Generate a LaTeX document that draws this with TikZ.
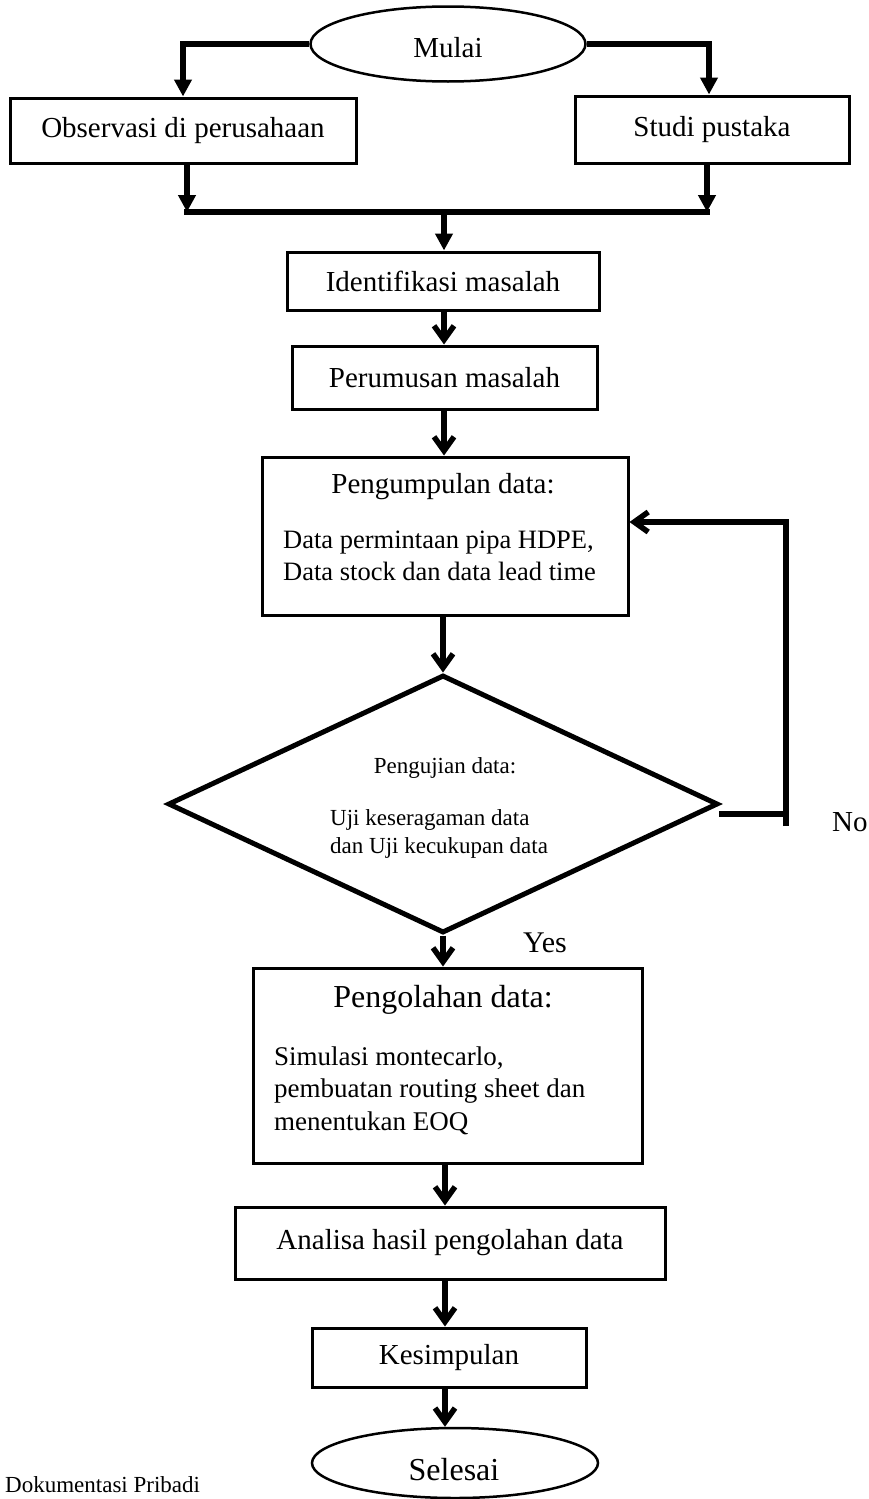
\documentclass[tikz,border=0pt]{standalone}
\usepackage{fontspec}
\setmainfont{Liberation Serif}
\usetikzlibrary{arrows.meta,shapes.geometric}
\tikzset{
  boxnode/.style={draw, line width=3pt, rectangle, inner sep=0pt, font=\fontsize{29}{34}\selectfont},
  ellnode/.style={draw, line width=2.5pt, ellipse, inner sep=0pt, font=\fontsize{29}{34}\selectfont},
  decnode/.style={draw, line width=5pt, diamond, inner sep=0pt, line join=miter},
  conn/.style={line width=5.5pt},
  tri/.style={conn, -{Triangle[length=17pt,width=17pt]}},
  barb/.style={conn, -{Straight Barb[length=14pt,width=20pt]}},
  plain/.style={inner sep=0pt},
}
\begin{document}
\begin{tikzpicture}[x=1pt,y=-1pt]
\useasboundingbox (0,0) rectangle (869,1499);

% nodes
\node[ellnode, minimum width=275pt, minimum height=75pt] (mulai) at (448,44) {};
\node[plain, font=\fontsize{29}{34}\selectfont, anchor=base] (mulaitxt) at (448,57) {Mulai};
\node[boxnode, minimum width=346pt, minimum height=65pt] (obs) at (183,130.5) {Observasi di perusahaan};
\node[boxnode, minimum width=274pt, minimum height=67pt] (studi) at (712,129.5) {Studi pustaka};
\node[boxnode, minimum width=312pt, minimum height=58pt] (ident) at (443,281) {Identifikasi masalah};
\node[boxnode, minimum width=305pt, minimum height=63pt] (perum) at (444.5,377.5) {Perumusan masalah};
\node[boxnode, minimum width=366pt, minimum height=158pt] (kumpul) at (445,536) {};
\node[plain, font=\fontsize{29}{34}\selectfont, anchor=base] (kumpul1) at (443,493) {Pengumpulan data:};
\node[plain, font=\fontsize{26.5}{32}\selectfont, anchor=base west] (kumpul2) at (283,548) {Data permintaan pipa HDPE,};
\node[plain, font=\fontsize{26.5}{32}\selectfont, anchor=base west] (kumpul3) at (283,580) {Data stock dan data lead time};

\node[decnode, minimum width=550pt, minimum height=258pt] (uji) at (443,804) {};
\node[plain, font=\fontsize{23}{28}\selectfont, anchor=base] (uji1) at (445,773) {Pengujian data:};
\node[plain, font=\fontsize{23}{28}\selectfont, anchor=base west] (uji2) at (330,825) {Uji keseragaman data};
\node[plain, font=\fontsize{23}{28}\selectfont, anchor=base west] (uji3) at (330,853) {dan Uji kecukupan data};

\node[plain, font=\fontsize{30}{36}\selectfont, anchor=base] (yes) at (545,952) {Yes};
\node[plain, font=\fontsize{29}{34}\selectfont, anchor=base west] (no) at (832,831) {No};

\node[boxnode, minimum width=389pt, minimum height=195pt] (olah) at (447.5,1065.5) {};
\node[plain, font=\fontsize{32}{38}\selectfont, anchor=base] (olah1) at (443,1007) {Pengolahan data:};
\node[plain, font=\fontsize{27}{32}\selectfont, anchor=base west] (olah2) at (274,1065) {Simulasi montecarlo,};
\node[plain, font=\fontsize{27}{32}\selectfont, anchor=base west] (olah3) at (274,1097) {pembuatan routing sheet dan};
\node[plain, font=\fontsize{27}{32}\selectfont, anchor=base west] (olah4) at (274,1130) {menentukan EOQ};

\node[boxnode, minimum width=430pt, minimum height=72pt] (analisa) at (450,1243) {Analisa hasil pengolahan data};
\node[boxnode, minimum width=274pt, minimum height=59pt] (simpul) at (449,1357.5) {Kesimpulan};
\node[ellnode, minimum width=286pt, minimum height=70pt] (selesai) at (455,1463) {};
\node[plain, font=\fontsize{32}{38}\selectfont, anchor=base] (selesaitxt) at (454,1480) {Selesai};

\node[plain, font=\fontsize{23}{28}\selectfont, anchor=base west] (dok) at (5,1492) {Dokumentasi Pribadi};

% junction coordinates
\coordinate (jl) at (187,212);
\coordinate (jr) at (707,212);
\coordinate (jc) at (444,212);
\coordinate (nostart) at (719,814);
\coordinate (nobot) at (786,826);
\coordinate (notop) at (786,522);

% connectors
\draw[tri] (mulai.west) -| (obs.north -| 183,0);
\draw[tri] (mulai.east) -| (studi.north -| 709,0);
\draw[tri] (obs.south -| jl) -- (jl);
\draw[tri] (studi.south -| jr) -- (jr);
\draw[conn] ([xshift=-2.75pt]jl) -- ([xshift=2.75pt]jr);
\draw[tri] (jc) -- (ident.north -| jc);
\draw[barb] (ident.south -| jc) -- (perum.north -| jc);
\draw[barb] (perum.south -| jc) -- (kumpul.north -| jc);
\draw[barb] (kumpul.south -| 443,0) -- (uji.north);
\draw[barb] (uji.south) -- (olah.north -| uji.south);
\draw[barb] (olah.south -| 445,0) -- (analisa.north -| 445,0);
\draw[barb] (analisa.south -| 445,0) -- (simpul.north -| 445,0);
\draw[barb] (simpul.south -| 445,0) -- (selesai.north -| 445,0);
\draw[conn] (nostart) -- (nostart -| nobot);
\draw[barb, line join=miter] (nobot) -- (notop) -- (notop -| kumpul.east);
\end{tikzpicture}
\end{document}
